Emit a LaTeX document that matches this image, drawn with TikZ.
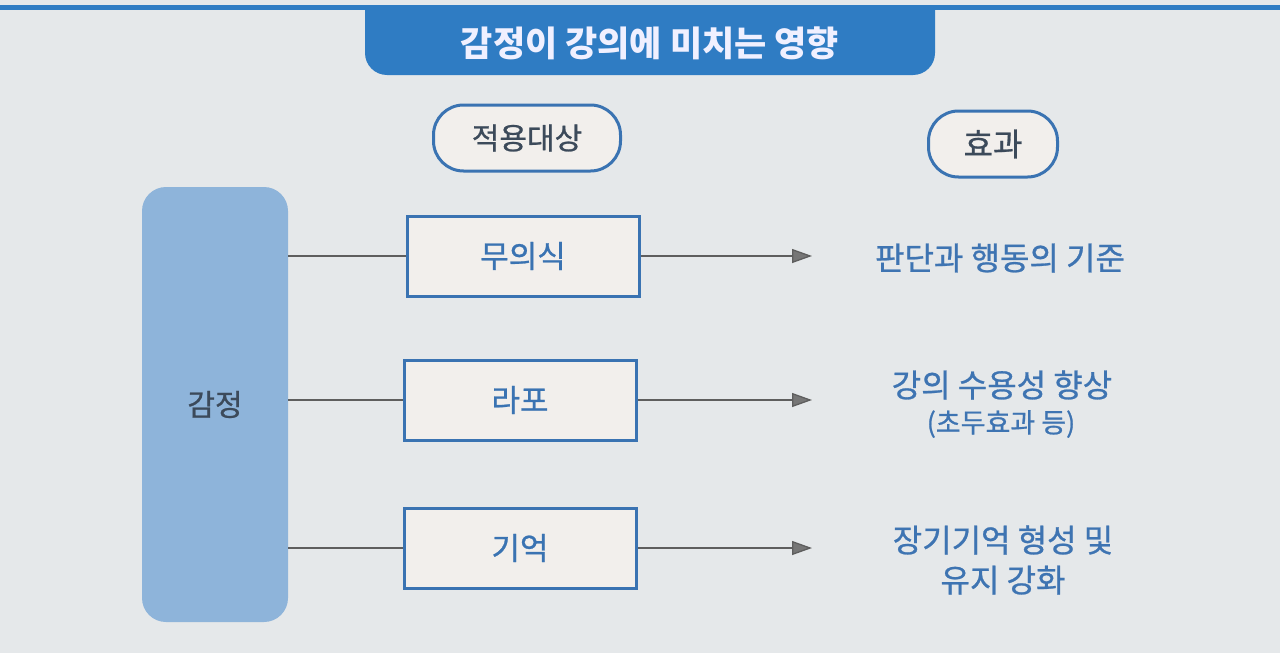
\documentclass[tikz,border=0pt]{standalone}
\usepackage{fontspec}
\setmainfont{Noto Sans CJK KR}
\newfontfamily\medfont[FakeBold=0.8]{Noto Sans CJK KR}
\usetikzlibrary{arrows.meta}
\definecolor{bgc}{HTML}{E5E8EA}
\definecolor{titleblue}{HTML}{2F7CC3}
\definecolor{edgeblue}{HTML}{3A73B2}
\definecolor{barblue}{HTML}{8EB4DA}
\definecolor{boxfill}{HTML}{F2EFEC}
\definecolor{txtblue}{HTML}{3E74B2}
\definecolor{bartext}{HTML}{3C4A5A}
\definecolor{linegray}{HTML}{5E5E5E}
\tikzset{
  pill/.style={draw=edgeblue, line width=3pt, fill=boxfill, rounded corners=30pt,
    minimum height=66pt, inner sep=0pt, text=bartext},
  itembox/.style={draw=edgeblue, line width=3pt, fill=boxfill, minimum width=232pt,
    minimum height=80pt, inner sep=0pt, font=\medfont\fontsize{31}{34}\selectfont, text=edgeblue},
  effect/.style={text=txtblue, align=center, font=\medfont\fontsize{32}{40}\selectfont, inner sep=0pt},
  link/.style={draw=linegray, line width=1.3pt},
  arrowlink/.style={link, -{Triangle[length=20pt,width=14pt,fill=linegray!85!white]}}
}
\begin{document}
\begin{tikzpicture}[x=1pt,y=-1pt]
\useasboundingbox (0,0) rectangle (1280,653);
\fill[bgc] (0,0) rectangle (1280,653);
% top line
\fill[titleblue] (0,5) rectangle (1280,10);
% title banner
\fill[titleblue] (365,5) -- (365,53) arc[start angle=180,end angle=90,x radius=22pt,y radius=-22pt] -- (913,75) arc[start angle=90,end angle=0,x radius=22pt,y radius=-22pt] -- (935,5) -- cycle;
\node[text=white!94!blue, font=\bfseries\fontsize{35}{40}\selectfont, inner sep=0pt] (title) at (650,43) {감정이 강의에 미치는 영향};
% header pills
\node[pill, minimum width=187pt, font=\medfont\fontsize{30}{34}\selectfont] (target) at (527,138) {적용대상};
\node[pill, minimum width=129pt, font=\medfont\fontsize{32}{34}\selectfont] (effecthead) at (993,144) {효과};
% left bar
\node[fill=barblue, rounded corners=24pt, minimum width=146pt, minimum height=435pt, inner sep=0pt,
  text=bartext, font=\medfont\fontsize{30}{34}\selectfont] (emotion) at (215,404.5) {감정};
% item boxes
\node[itembox] (b1) at (523,256) {무의식};
\node[itembox] (b2) at (520,400) {라포};
\node[itembox] (b3) at (520,548) {기억};
% effects
\node[effect] (e1) at (1000,258) {판단과 행동의 기준};
\node[effect] (e2) at (1002,385) {강의 수용성 향상};
\node[effect, font=\medfont\fontsize{27}{30}\selectfont] (e2b) at (1001,424) {(초두효과 등)};
\node[effect] (e3) at (1003,560) {장기기억 형성 및\\유지 강화};
% arrow end points
\coordinate (a1) at (812,256);
\coordinate (a2) at (812,400);
\coordinate (a3) at (812,548);
% connectors
\draw[link] (emotion.east |- b1.west) -- (b1.west);
\draw[link] (emotion.east |- b2.west) -- (b2.west);
\draw[link] (emotion.east |- b3.west) -- (b3.west);
\draw[arrowlink] (b1.east) -- (a1);
\draw[arrowlink] (b2.east) -- (a2);
\draw[arrowlink] (b3.east) -- (a3);
\end{tikzpicture}
\end{document}
